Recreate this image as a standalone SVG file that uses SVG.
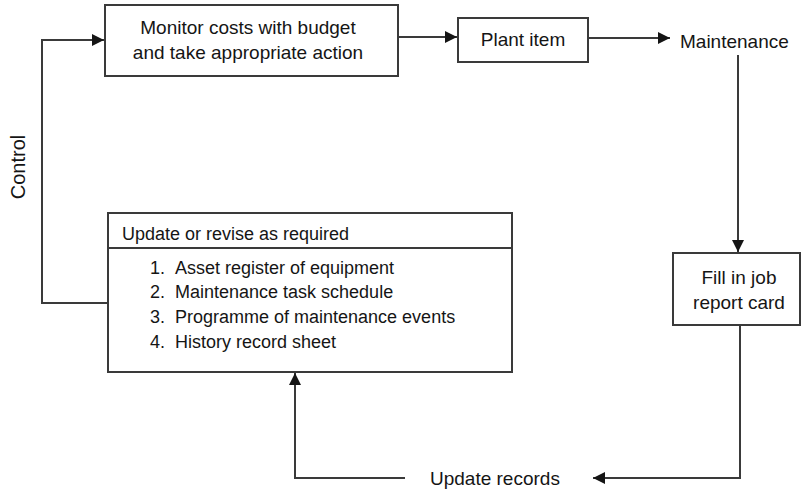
<svg xmlns="http://www.w3.org/2000/svg" width="801" height="491" viewBox="0 0 801 491">
<defs>
<style>
.box{fill:#fff;stroke:#3a3a3a;stroke-width:2}
.ln{fill:none;stroke:#3a3a3a;stroke-width:2}
text{font-family:"Liberation Sans",Arial,sans-serif;font-size:19px;fill:#151515}
.c{text-anchor:middle}
.l{font-size:18px}
</style>
<marker id="ah" viewBox="0 0 10 10" refX="10" refY="5" markerWidth="16" markerHeight="12" markerUnits="userSpaceOnUse" orient="auto">
<path d="M0,0 L10,5 L0,10 z" fill="#151515"/>
</marker>
</defs>
<rect width="801" height="491" fill="#fff"/>
<g id="connectors">
<path class="ln" d="M398,37 H457" marker-end="url(#ah)"/>
<path class="ln" d="M588,38 H670" marker-end="url(#ah)"/>
<path class="ln" d="M738,55 V252" marker-end="url(#ah)"/>
<path class="ln" d="M740,325 V478 H593" marker-end="url(#ah)"/>
<path class="ln" d="M405,478 H295 V373" marker-end="url(#ah)"/>
<path class="ln" d="M108,303 H42 V40 H104" marker-end="url(#ah)"/>
</g>
<g id="monitor">
<rect class="box" x="105" y="5" width="293" height="71"/>
<text class="c" x="248" y="34">Monitor costs with budget</text>
<text class="c" x="248" y="59">and take appropriate action</text>
</g>
<g id="plant">
<rect class="box" x="458" y="18" width="130" height="44"/>
<text class="c" x="523" y="46">Plant item</text>
</g>
<g id="maintenance">
<text x="680" y="48">Maintenance</text>
</g>
<g id="fill">
<rect class="box" x="673" y="253" width="127" height="72"/>
<text class="c" x="739" y="284">Fill in job</text>
<text class="c" x="739" y="309">report card</text>
</g>
<g id="update-records">
<text x="430" y="485">Update records</text>
</g>
<g id="update-box">
<rect class="box" x="108" y="213" width="404" height="159"/>
<line class="ln" x1="108" y1="248" x2="512" y2="248"/>
<text class="l" x="122" y="240">Update or revise as required</text>
<text class="l" x="150" y="274">1.</text><text class="l" x="175" y="274">Asset register of equipment</text>
<text class="l" x="150" y="298">2.</text><text class="l" x="175" y="298">Maintenance task schedule</text>
<text class="l" x="150" y="323">3.</text><text class="l" x="175" y="323">Programme of maintenance events</text>
<text class="l" x="150" y="348">4.</text><text class="l" x="175" y="348">History record sheet</text>
</g>
<g id="control">
<text class="c" style="font-size:20px" transform="translate(25,167) rotate(-90)">Control</text>
</g>
</svg>
